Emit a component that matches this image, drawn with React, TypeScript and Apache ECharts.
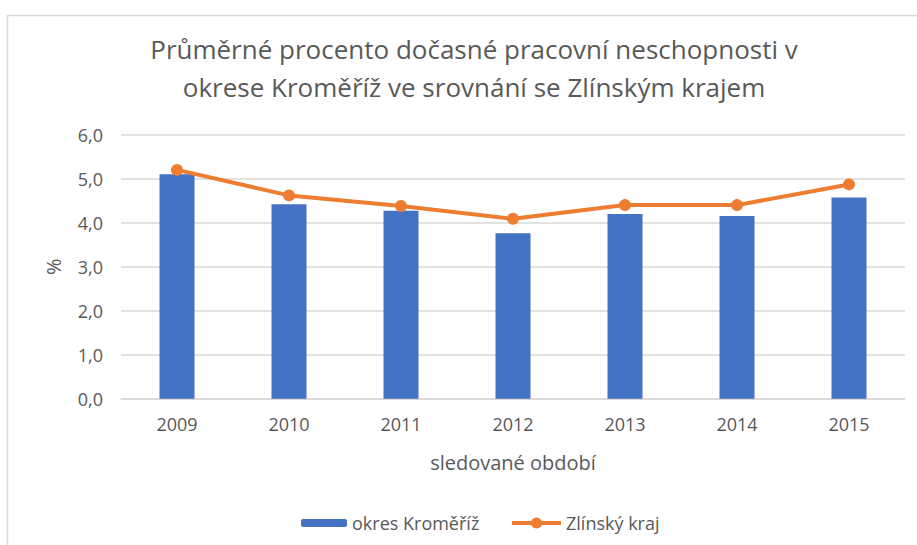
import React, { useEffect, useRef } from "react";
import * as echarts from "echarts";

const categories = ["2009", "2010", "2011", "2012", "2013", "2014", "2015"];
const okresKromeriz = [5.1, 4.42, 4.27, 3.76, 4.2, 4.15, 4.57];
const zlinskyKraj = [5.2, 4.62, 4.38, 4.09, 4.4, 4.4, 4.87];
const titleText = "Průměrné procento dočasné pracovní neschopnosti v\nokrese Kroměříž ve srovnání se Zlínským krajem";
const barName = "okres Kroměříž";
const lineName = "Zlínský kraj";

const FONT = "'Open Sans', 'Noto Sans', sans-serif";
const GRAY = "#595959";

export default function App() {
  const ref = useRef<HTMLDivElement>(null);
  useEffect(() => {
    document.body.style.margin = "0";
    const chart = echarts.init(ref.current!, undefined, { renderer: "svg" });
    chart.setOption({
      animation: false,
      backgroundColor: "#ffffff",
      textStyle: { fontFamily: FONT },
      title: {
        text: titleText,
        left: 469,
        top: 25,
        textAlign: "center",
        textStyle: {
          fontFamily: FONT,
          fontSize: 26,
          fontWeight: "normal",
          color: GRAY,
          lineHeight: 38,
        },
      },
      graphic: [
        {
          type: "polyline",
          shape: { points: [[7.5, 545], [7.5, 15.5], [917, 15.5]] },
          style: { stroke: "#d9d9d9", lineWidth: 1.5, fill: "none" },
          silent: true,
        },
      ],
      legend: [
        {
          data: [barName],
          left: 296,
          top: 509,
          itemWidth: 46,
          itemHeight: 8,
          itemGap: 5,
          textStyle: { fontFamily: FONT, fontSize: 18, color: GRAY },
        },
        {
          data: [lineName],
          left: 505,
          top: 509,
          itemWidth: 49,
          itemHeight: 14,
          lineStyle: { width: 4 },
          textStyle: { fontFamily: FONT, fontSize: 18, color: GRAY },
        },
      ],
      grid: { left: 121, right: 12, top: 134.7, bottom: 146.3 },
      xAxis: {
        type: "category",
        data: categories,
        name: "sledované období",
        nameLocation: "middle",
        nameGap: 54,
        nameTextStyle: { fontFamily: FONT, fontSize: 20, color: GRAY },
        axisLine: { show: true, lineStyle: { color: "#d9d9d9", width: 1.5 } },
        axisTick: { show: false },
        axisLabel: { fontFamily: FONT, fontSize: 18, color: GRAY, margin: 16 },
      },
      yAxis: {
        type: "value",
        min: 0,
        max: 6,
        interval: 1,
        name: "%",
        nameLocation: "middle",
        nameRotate: 90,
        nameGap: 58,
        nameTextStyle: { fontFamily: FONT, fontSize: 20, color: GRAY },
        axisLine: { show: false },
        axisTick: { show: false },
        axisLabel: {
          fontFamily: FONT,
          fontSize: 18,
          color: GRAY,
          margin: 18,
          formatter: (v: number) => v.toFixed(1).replace(".", ","),
        },
        splitLine: { lineStyle: { color: "#d9d9d9", width: 1.5 } },
      },
      series: [
        {
          name: barName,
          type: "bar",
          data: okresKromeriz,
          barWidth: 35,
          itemStyle: { color: "#4472c4" },
        },
        {
          name: lineName,
          type: "line",
          data: zlinskyKraj,
          symbol: "circle",
          symbolSize: 12,
          lineStyle: { color: "#ed7d31", width: 4 },
          itemStyle: { color: "#ed7d31" },
        },
      ],
    });
    return () => chart.dispose();
  }, []);
  return (
    <div
      ref={ref}
      style={{ position: "fixed", left: 0, top: 0, width: 917, height: 545 }}
    />
  );
}
